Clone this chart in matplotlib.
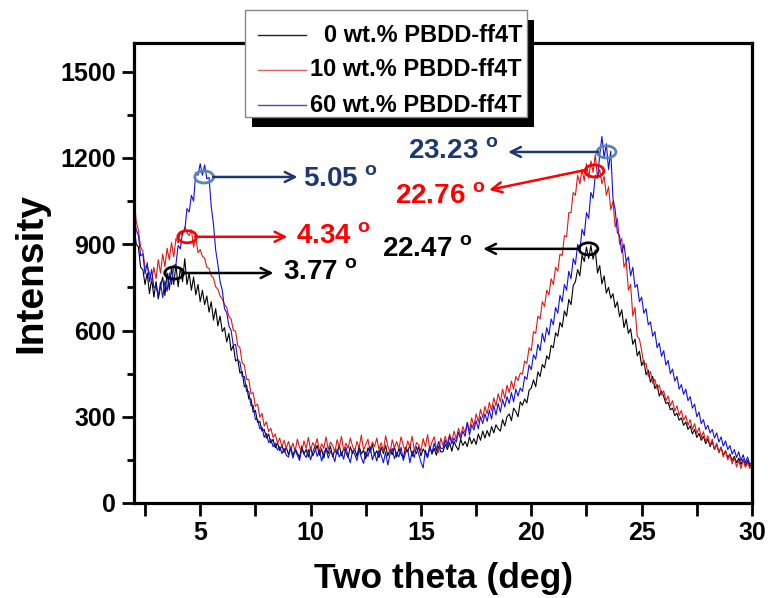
import numpy as np
import matplotlib
matplotlib.use('Agg')
import matplotlib.pyplot as plt
from matplotlib.patches import Ellipse, Rectangle
from matplotlib.lines import Line2D
import matplotlib.ticker as ticker

plt.rcParams['font.family'] = ['Liberation Sans', 'DejaVu Sans']
plt.rcParams['mathtext.fontset'] = 'custom'
plt.rcParams['mathtext.rm'] = 'Liberation Sans'

W, H = 770, 598

# two theta grid (deg), step 0.1
two_theta = np.round(np.arange(2.0, 30.05, 0.1), 1)

# 0 wt.% PBDD-ff4T
pbdd_0 = [
    965, 900, 890, 820, 812, 760, 800, 728, 780, 716,
    770, 710, 752, 786, 722, 800, 742, 820, 760, 830,
    752, 818, 770, 850, 760, 800, 740, 786, 724, 760,
    700, 740, 690, 720, 664, 700, 636, 676, 616, 650,
    596, 610, 560, 590, 530, 548, 494, 500, 452, 458,
    404, 410, 362, 362, 316, 322, 280, 284, 250, 256,
    226, 240, 208, 222, 192, 210, 182, 200, 176, 194,
    168, 196, 162, 190, 174, 158, 198, 170, 186, 160,
    194, 164, 182, 200, 166, 188, 156, 192, 172, 198,
    160, 186, 170, 202, 164, 190, 176, 158, 196, 172,
    188, 162, 198, 170, 184, 154, 192, 176, 204, 166,
    182, 158, 194, 172, 200, 164, 186, 168, 196, 160,
    190, 170, 156, 194, 178, 202, 162, 186, 172, 196,
    164, 188, 174, 158, 196, 170, 190, 166, 198, 178,
    178, 204, 186, 210, 180, 214, 196, 184, 222, 200,
    214, 196, 230, 206, 224, 204, 240, 218, 250, 226,
    252, 232, 266, 244, 272, 258, 250, 290, 268, 300,
    310, 286, 330, 318, 300, 352, 340, 362, 348, 392,
    400, 428, 404, 456, 440, 482, 470, 512, 500, 548,
    540, 592, 580, 628, 612, 668, 650, 708, 690, 756,
    770, 812, 790, 862, 840, 890, 850, 896, 848, 880,
    800, 826, 762, 790, 730, 750, 712, 728, 680, 700,
    648, 672, 610, 640, 590, 606, 552, 570, 512, 528,
    478, 496, 446, 462, 420, 440, 398, 412, 372, 390,
    370, 346, 350, 324, 330, 304, 312, 288, 296, 270,
    282, 256, 268, 240, 256, 228, 242, 218, 232, 206,
    222, 196, 214, 186, 204, 176, 194, 166, 182, 158,
    170, 148, 162, 140, 156, 134, 152, 130, 148, 128,
    134,
]

# 10 wt.% PBDD-ff4T
pbdd_10 = [
    1062, 980, 948, 890, 876, 820, 820, 800, 770, 820,
    780, 846, 800, 866, 822, 886, 846, 906, 856, 920,
    904, 944, 930, 960, 940, 930, 950, 890, 924, 870,
    882, 858, 852, 820, 816, 790, 782, 752, 744, 720,
    710, 690, 680, 648, 640, 600, 598, 548, 540, 488,
    480, 430, 430, 380, 384, 336, 344, 298, 312, 268,
    282, 248, 260, 228, 240, 208, 226, 196, 218, 190,
    214, 186, 208, 180, 222, 194, 176, 216, 190, 228,
    184, 210, 196, 224, 178, 206, 190, 230, 186, 212,
    200, 176, 220, 194, 232, 182, 208, 190, 226, 198,
    180, 214, 192, 236, 184, 204, 222, 178, 212, 196,
    226, 186, 210, 180, 234, 198, 176, 220, 192, 214,
    188, 230, 200, 178, 216, 194, 232, 182, 210, 202,
    180, 224, 196, 238, 186, 212, 230, 192, 176, 226,
    200, 232, 206, 240, 214, 250, 222, 260, 232, 266,
    244, 280, 252, 296, 266, 310, 282, 326, 296, 336,
    310, 350, 322, 366, 338, 380, 352, 396, 364, 410,
    384, 424, 396, 440, 426, 452, 448, 494, 486, 540,
    530, 596, 590, 650, 640, 700, 684, 740, 724, 780,
    760, 820, 806, 866, 860, 930, 926, 1010, 1010, 1080,
    1070, 1140, 1110, 1160, 1120, 1180, 1130, 1190, 1150, 1212,
    1130, 1160, 1110, 1136, 1070, 1100, 1020, 1050, 960, 990,
    900, 920, 820, 840, 740, 760, 650, 680, 580, 570,
    530, 480, 486, 440, 458, 416, 430, 396, 410, 376,
    390, 356, 372, 338, 356, 320, 338, 304, 322, 288,
    304, 270, 290, 256, 276, 242, 262, 228, 248, 214,
    234, 200, 222, 186, 208, 176, 194, 160, 182, 150,
    166, 136, 156, 126, 148, 120, 150, 124, 140, 120,
    132,
]

# 60 wt.% PBDD-ff4T
pbdd_60 = [
    1000, 950, 930, 860, 866, 796, 836, 770, 812, 748,
    756, 718, 768, 714, 772, 736, 800, 760, 826, 830,
    896, 884, 944, 946, 1024, 1012, 1070, 1050, 1150, 1140,
    1180, 1140, 1176, 1128, 1132, 1030, 970, 880, 830, 770,
    740, 676, 662, 616, 600, 548, 552, 498, 490, 440,
    440, 388, 388, 338, 340, 290, 292, 258, 264, 228,
    242, 210, 222, 196, 208, 184, 196, 172, 190, 166,
    160, 192, 156, 184, 166, 148, 190, 170, 158, 186,
    150, 178, 196, 162, 182, 146, 174, 190, 156, 180,
    168, 144, 188, 160, 176, 152, 194, 164, 140, 182,
    170, 148, 186, 158, 138, 178, 162, 196, 150, 174,
    146, 184, 166, 140, 178, 132, 170, 190, 154, 176,
    160, 194, 148, 174, 186, 140, 180, 158, 196, 170,
    142, 122, 184, 160, 196, 174, 208, 180, 214, 190,
    190, 218, 196, 232, 206, 226, 212, 246, 222, 250,
    232, 280, 236, 272, 254, 286, 258, 300, 276, 310,
    284, 322, 292, 340, 306, 346, 316, 360, 334, 370,
    346, 384, 352, 396, 372, 400, 388, 440, 430, 480,
    464, 516, 500, 552, 530, 590, 560, 610, 584, 640,
    620, 680, 660, 722, 700, 760, 740, 806, 780, 850,
    830, 900, 880, 952, 930, 1010, 990, 1080, 1060, 1140,
    1130, 1210, 1275, 1200, 1250, 1160, 1224, 1060, 1020, 940,
    930, 870, 900, 840, 856, 790, 820, 750, 760, 700,
    716, 660, 676, 620, 630, 580, 596, 540, 556, 510,
    530, 480, 496, 450, 466, 424, 440, 396, 412, 378,
    396, 356, 370, 330, 344, 300, 316, 276, 290, 256,
    270, 244, 256, 226, 244, 212, 230, 198, 216, 186,
    200, 170, 186, 158, 178, 146, 168, 140, 160, 134,
    142,
]

labels = ['0 wt.% PBDD-ff4T', '10 wt.% PBDD-ff4T', '60 wt.% PBDD-ff4T']
line_colors = ['#000000', '#e01818', '#1010e0']
legend_colors = ['#222222', '#d86060', '#4848c8']

# peak labels: text, ellipse centre, arrow start/end, text anchor
peak_text = ['5.05', '4.34', '3.77', '23.23', '22.76', '22.47']
peak_xy = [(5.18, 1134), (4.41, 926), (3.82, 800),
           (23.41, 1221), (22.86, 1155), (22.59, 884)]
arrow_start = [(5.59, 1134), (4.77, 926), (4.23, 800),
               (23.02, 1221), (22.5, 1159), (22.18, 884)]
arrow_end = [(9.41, 1134), (8.95, 926), (8.32, 800),
             (18.95, 1221), (18.09, 1089), (17.82, 884)]
text_xy = [(9.64, 1124), (9.32, 926), (8.77, 800),
           (18.5, 1221), (17.95, 1065), (17.36, 880)]
text_ha = ['left', 'left', 'left', 'right', 'right', 'right']
text_colors = ['#1f3771', '#ff0000', '#000000', '#1f3771', '#ff0000', '#000000']
ell_colors = ['#5b84b1', '#ff0000', '#000000', '#5b84b1', '#ff0000', '#000000']

fig = plt.figure(figsize=(W / 100, H / 100), dpi=100)
ax = fig.add_axes([134 / W, 1 - 503 / H, (752 - 134) / W, (503 - 43) / H])

series = [pbdd_0, pbdd_10, pbdd_60]
for ys, col in zip(series, line_colors):
    ax.plot(two_theta, ys, color=col, lw=0.8)

for i in range(len(peak_text)):
    ax.add_patch(Ellipse(peak_xy[i], 0.85, 42, fill=False,
                         edgecolor=ell_colors[i], lw=2, zorder=5))
    ax.annotate('', xy=arrow_end[i], xytext=arrow_start[i],
                arrowprops=dict(arrowstyle='->', color=text_colors[i],
                                lw=1.8, mutation_scale=18,
                                shrinkA=0, shrinkB=0), zorder=5)
    ax.text(text_xy[i][0], text_xy[i][1],
            peak_text[i] + r' $^{\mathregular{o}}$',
            color=text_colors[i], fontsize=20, fontweight='bold',
            ha=text_ha[i], va='center', zorder=6)

ax.set_xlim(2, 30)
ax.set_ylim(0, 1600)
ax.xaxis.set_major_locator(ticker.MultipleLocator(5))
ax.xaxis.set_minor_locator(ticker.MultipleLocator(2.5))
ax.yaxis.set_major_locator(ticker.FixedLocator([0, 300, 600, 900, 1200, 1500]))
ax.yaxis.set_minor_locator(ticker.MultipleLocator(150))
ax.tick_params(which='major', direction='out', length=9, width=2,
               labelsize=18, pad=4)
ax.tick_params(axis='x', which='minor', direction='out', length=9, width=2)
ax.tick_params(axis='y', which='minor', direction='out', length=5, width=2)
for lab in ax.get_xticklabels() + ax.get_yticklabels():
    lab.set_fontweight('bold')
for sp in ax.spines.values():
    sp.set_linewidth(2.3)

ax.set_xlabel('Two theta (deg)', fontsize=25.5, fontweight='bold', labelpad=12)
ax.set_ylabel('Intensity', fontsize=28, fontweight='bold', labelpad=8)


def fx(x):
    return x / W


def fy(y):
    return 1 - y / H


# legend box with drop shadow, text right aligned
fig.add_artist(Rectangle((fx(252), fy(127)), (527 - 245) / W, (117 - 10) / H,
                         transform=fig.transFigure, facecolor='black',
                         edgecolor='none', zorder=3))
fig.add_artist(Rectangle((fx(245), fy(117)), (527 - 245) / W, (117 - 10) / H,
                         transform=fig.transFigure, facecolor='white',
                         edgecolor='#888888', lw=1, zorder=4))
rows = [35, 70, 105]
for lab, col, ry in zip(labels, legend_colors, rows):
    fig.add_artist(Line2D([fx(258), fx(306)], [fy(ry), fy(ry)],
                          transform=fig.transFigure, color=col, lw=1,
                          zorder=5))
    fig.text(fx(522), fy(ry), lab, ha='right', va='center', fontsize=17,
             fontweight='bold', zorder=5)

fig.savefig('out.png', dpi=100)
